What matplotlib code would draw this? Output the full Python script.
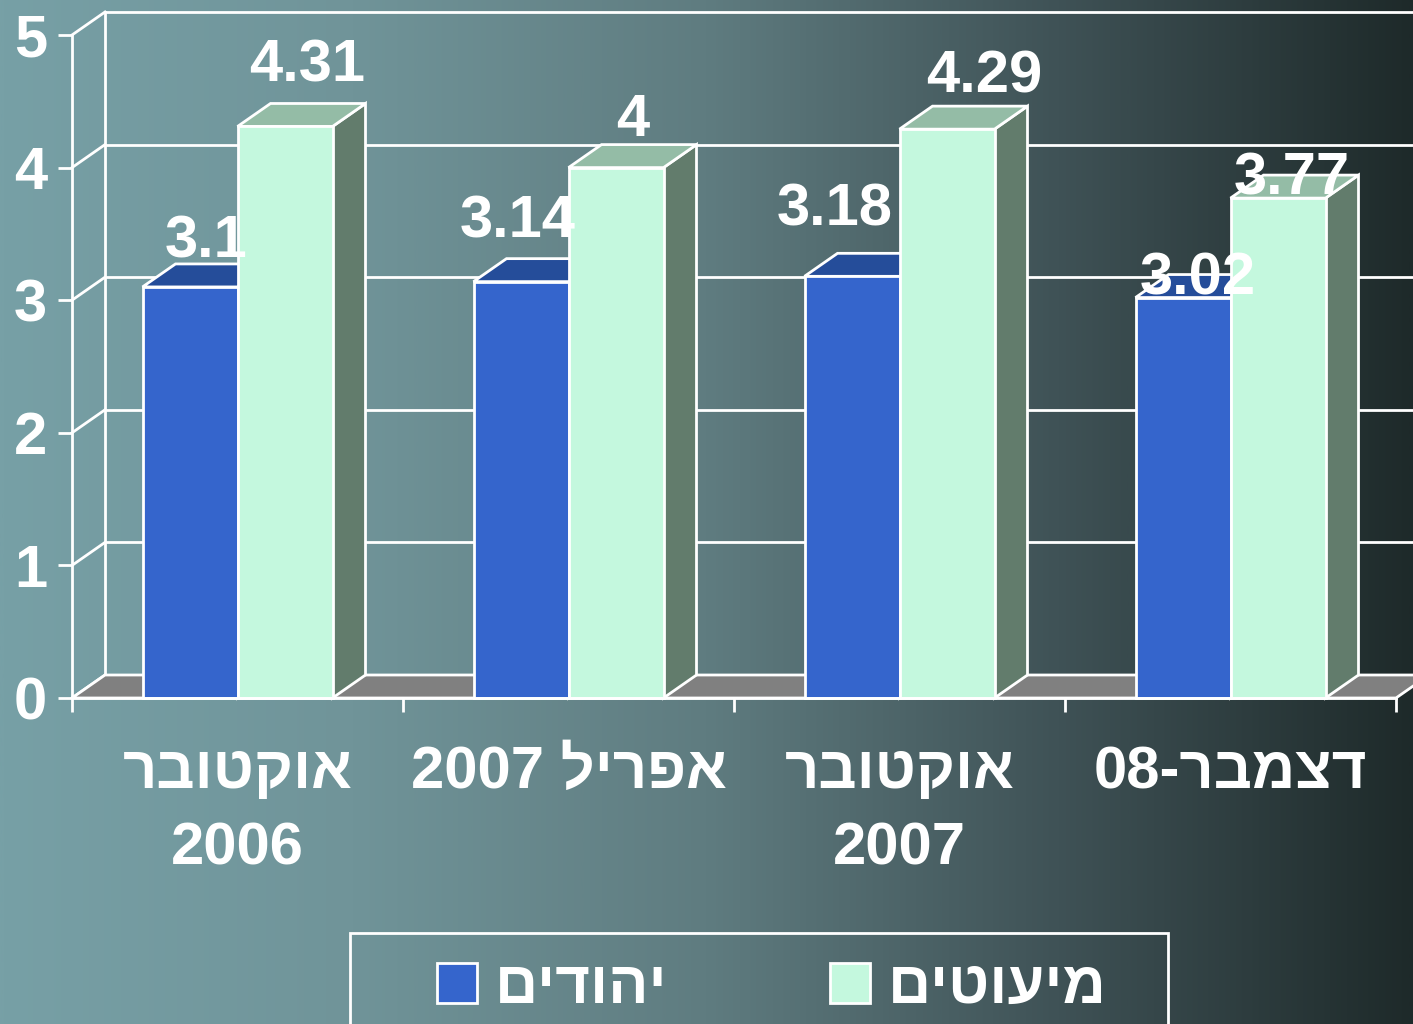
import re
import numpy as np
import matplotlib
matplotlib.use("Agg")
import matplotlib.pyplot as plt
from matplotlib.patches import Polygon, Rectangle
from matplotlib.colors import LinearSegmentedColormap

plt.rcParams['font.family'] = ['Liberation Sans', 'DejaVu Sans']
plt.rcParams['font.weight'] = 'bold'

# data
categories = ['אוקטובר\n2006', 'אפריל 2007', 'אוקטובר\n2007', 'דצמבר-08']
jews = [3.1, 3.14, 3.18, 3.02]
minorities = [4.31, 4.0, 4.29, 3.77]
jews_text = ['3.1', '3.14', '3.18', '3.02']
minorities_text = ['4.31', '4', '4.29', '3.77']
series_names = ['יהודים', 'מיעוטים']
yticks = [0, 1, 2, 3, 4, 5]

# label nudges in pixels (x, y above the back edge of the bar top)
jews_nudge = [(0, 6), (-20, 21), (-34, 28), (-2, -20)]
minorities_nudge = [(6, 22), (0, 9), (21, 14), (-3, -19)]

BLUE = '#3565cc'
BLUE_TOP = '#254d9a'
GREEN = '#c4f8de'
GREEN_TOP = '#94bca6'
GREEN_SIDE = '#627c6c'
FLOOR = '#808080'


def visual(s):
    # matplotlib has no bidi, so put hebrew text in visual order by hand
    out = []
    for line in s.split('\n'):
        runs = re.findall(r'[\u0590-\u05ff]+|[0-9A-Za-z.]+|[^\u0590-\u05ff0-9A-Za-z.]+', line)
        runs = [r[::-1] if re.match(r'[\u0590-\u05ff]', r) else r for r in runs]
        out.append(''.join(runs[::-1]))
    return '\n'.join(out)


W_PX, H_PX = 1413, 1024
fig = plt.figure(figsize=(W_PX / 100, H_PX / 100), dpi=100)

# background gradient
bg = fig.add_axes([0, 0, 1, 1], zorder=0)
cmap = LinearSegmentedColormap.from_list(
    'bg', ['#77a0a6', '#709499', '#5f7c80', '#3f5256', '#1e2a2a'])
bg.imshow(np.linspace(0, 1, 512).reshape(1, -1), aspect='auto', cmap=cmap,
          extent=[0, 1, 0, 1])
bg.axis('off')

n = len(categories)
ax = fig.add_axes([72 / W_PX, (H_PX - 698) / H_PX, 1324 / W_PX, 663 / H_PX], zorder=1)
ax.set_facecolor('none')
ax.set_xlim(0, n)
ax.set_ylim(0, 5)
for s in ax.spines.values():
    s.set_visible(False)

# 3d depth in data units
DX = 33 * n / 1324
DY = 23 * 5 / 663
LW = 2
line_kw = dict(color='white', lw=LW, clip_on=False, solid_capstyle='projecting')

# back wall and side wall lines
for y in yticks:
    ax.plot([DX, n + DX + 1], [y + DY, y + DY], zorder=1, **line_kw)
    ax.plot([0, DX], [y, y + DY], zorder=1, **line_kw)
ax.plot([DX, DX], [DY, 5 + DY], zorder=1, **line_kw)
ax.plot([0, 0], [0, 5], zorder=1, **line_kw)

# floor
ax.add_patch(Polygon([(0, 0), (n, 0), (n + DX, DY), (DX, DY)], closed=True,
                     facecolor=FLOOR, edgecolor='white', lw=LW, zorder=2,
                     clip_on=False))

W = 95 * n / 1324
x = np.arange(n) + 0.5


def bar3d(x0, h, front, top, side, z):
    x1 = x0 + W
    ax.add_patch(Polygon([(x1, 0), (x1 + DX, DY), (x1 + DX, h + DY), (x1, h)],
                         facecolor=side, edgecolor='white', lw=LW, zorder=z,
                         clip_on=False))
    ax.add_patch(Polygon([(x0, h), (x1, h), (x1 + DX, h + DY), (x0 + DX, h + DY)],
                         facecolor=top, edgecolor='white', lw=LW, zorder=z,
                         clip_on=False, joinstyle='miter'))
    ax.bar(x0, h, width=W, align='edge', color=front, edgecolor='white', lw=LW,
           zorder=z + 0.5, clip_on=False)


for i in range(n):
    bar3d(x[i] - W, jews[i], BLUE, BLUE_TOP, BLUE, 3 + 2 * i)
    bar3d(x[i], minorities[i], GREEN, GREEN_TOP, GREEN_SIDE, 4 + 2 * i)

ax.plot([0, n], [0, 0], zorder=20, **line_kw)

# value labels
for vals, texts, nudges, off in [(jews, jews_text, jews_nudge, -W),
                                 (minorities, minorities_text, minorities_nudge, 0)]:
    for i in range(n):
        dx, dy = nudges[i]
        ax.annotate(texts[i], xy=(x[i] + off + W / 2 + DX / 2, vals[i] + DY),
                    xytext=(dx * 0.72, dy * 0.72), textcoords='offset points',
                    ha='center', va='baseline', fontsize=43, color='white',
                    fontweight='bold', zorder=30, annotation_clip=False)

# axes ticks
ax.set_yticks(yticks)
ax.set_yticklabels([str(t) for t in yticks])
ax.tick_params(axis='y', length=10, width=LW, color='white', pad=8,
               labelsize=43, labelcolor='white')
ax.set_xticks(x)
ax.set_xticklabels([visual(c) for c in categories])
ax.set_xticks(np.arange(n + 1), minor=True)
ax.tick_params(axis='x', which='major', length=0, pad=34, labelsize=43,
               labelcolor='white')
ax.tick_params(axis='x', which='minor', length=10, width=LW, color='white')
for t in ax.get_xticklabels():
    t.set_linespacing(1.5)

# legend drawn by hand in pixel positions
def px(xp, yp):
    return xp / W_PX, 1 - yp / H_PX


fig.patches.append(Rectangle(px(350, 1030), 818 / W_PX, 97 / H_PX,
                             transform=fig.transFigure, facecolor='none',
                             edgecolor='white', lw=LW, zorder=5))
for name, color, xp in [(series_names[0], BLUE, 437), (series_names[1], GREEN, 830)]:
    fig.patches.append(Rectangle(px(xp, 1003), 40 / W_PX, 40 / H_PX,
                                 transform=fig.transFigure, facecolor=color,
                                 edgecolor='white', lw=LW, zorder=5))
    fig.text(*px(xp + 58, 1003), visual(name), ha='left', va='baseline',
             fontsize=43, color='white', fontweight='bold', zorder=6)

fig.savefig('out.png', dpi=100)
